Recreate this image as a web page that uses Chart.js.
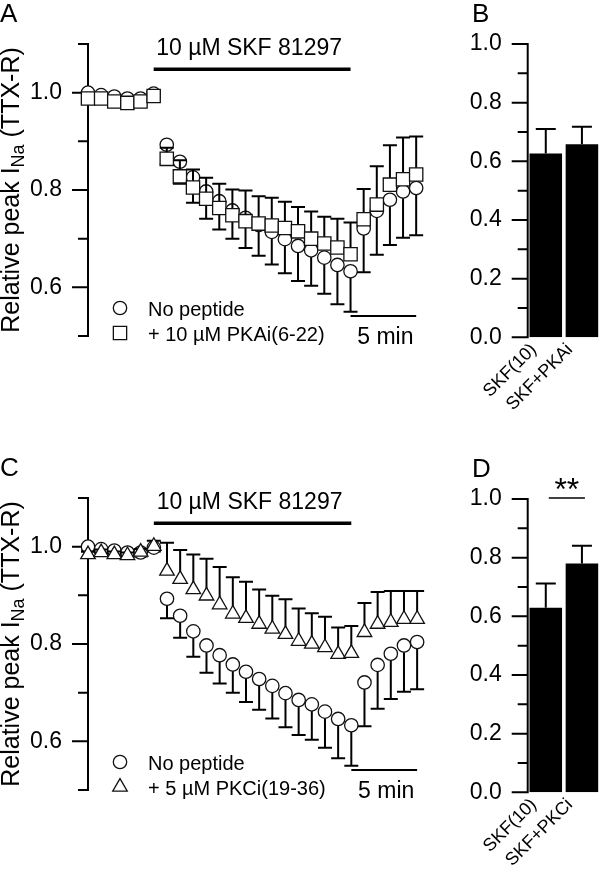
<!DOCTYPE html>
<html>
<head>
<meta charset="utf-8">
<script src="https://cdn.jsdelivr.net/npm/chart.js@4.4.1/dist/chart.umd.min.js"></script>
<style>
  html, body { margin: 0; padding: 0; background: #fff; overflow: hidden; }
  body { width: 600px; height: 875px; position: relative; }
  canvas { position: absolute; }
  #chartA { left: 0; top: 0; }
  #chartB { left: 440px; top: 0; }
  #chartC { left: 0; top: 454px; }
  #chartD { left: 440px; top: 455px; }
</style>
</head>
<body>
<canvas id="chartA" width="440" height="420"></canvas>
<canvas id="chartB" width="160" height="420"></canvas>
<canvas id="chartC" width="440" height="420"></canvas>
<canvas id="chartD" width="160" height="420"></canvas>
<script>
// time course, one point per minute
const minutes = [0, 1, 2, 3, 4, 5, 6, 7, 8, 9, 10, 11, 12, 13, 14, 15, 16, 17, 18, 19, 20, 21, 22, 23, 24, 25];
const noPeptide = [1.0, 0.995, 0.992, 0.988, 0.988, 0.998, 0.893, 0.858, 0.826, 0.797, 0.777, 0.758, 0.743, 0.728,
    0.714, 0.699, 0.685, 0.676, 0.661, 0.646, 0.633, 0.721, 0.757, 0.78, 0.797, 0.804];
const noPeptideSem = [0.01, 0.008, 0.008, 0.008, 0.008, 0.008, 0.04, 0.045, 0.052, 0.056, 0.058, 0.058, 0.062, 0.063,
    0.067, 0.07, 0.072, 0.073, 0.074, 0.081, 0.083, 0.09, 0.09, 0.093, 0.095, 0.097];
const pkaInhib = [0.988, 0.988, 0.982, 0.979, 0.982, 0.993, 0.864, 0.828, 0.805, 0.782, 0.763, 0.748, 0.736, 0.731,
    0.727, 0.722, 0.715, 0.7, 0.69, 0.682, 0.668, 0.74, 0.77, 0.811, 0.822, 0.832];
const pkaInhibSem = [0.008, 0.01, 0.01, 0.008, 0.008, 0.01, 0.023, 0.033, 0.037, 0.043, 0.05, 0.053, 0.063, 0.056,
    0.057, 0.054, 0.05, 0.056, 0.055, 0.059, 0.065, 0.062, 0.079, 0.081, 0.086, 0.078];
const pkcInhib = [0.984, 0.988, 0.984, 0.982, 0.989, 1.001, 0.95, 0.933, 0.912, 0.899, 0.881, 0.862, 0.853, 0.841,
    0.831, 0.82, 0.806, 0.8, 0.793, 0.779, 0.781, 0.824, 0.841, 0.845, 0.851, 0.851];
const pkcInhibSem = [0.006, 0.006, 0.006, 0.006, 0.006, 0.011, 0.058, 0.06, 0.072, 0.076, 0.077, 0.075, 0.075, 0.071,
    0.068, 0.072, 0.067, 0.063, 0.063, 0.055, 0.056, 0.06, 0.066, 0.064, 0.058, 0.058];
const skfWindow = [5, 20];
const scaleBarMin = [20, 25];
const timeTicks = [0.6, 0.8, 1.0];

// bar summaries
const barLabelsB = ['SKF(10)', 'SKF+PKAi'];
const barMeansB = [0.627, 0.658];
const barSemB = [0.083, 0.06];
const barLabelsD = ['SKF(10)', 'SKF+PKCi'];
const barMeansD = [0.629, 0.78];
const barSemD = [0.083, 0.061];
const barTicks = [0, 0.2, 0.4, 0.6, 0.8, 1.0];

const FONT = '"Liberation Sans", Arial, Helvetica, sans-serif';
Chart.defaults.font.family = FONT;
Chart.defaults.color = '#000';

function font(px) { return px + 'px ' + FONT; }

function tickLabeler(labelled) {
    return v => labelled.some(t => Math.abs(t - v) < 1e-6) ? v.toFixed(1) : '';
}

function pts(values) {
    return values.map((v, i) => ({ x: minutes[i], y: v }));
}

function drawYAxis(chart, labelled) {
    const { ctx, chartArea: a, scales: { y } } = chart;
    ctx.save();
    ctx.strokeStyle = '#000';
    ctx.lineWidth = 2;
    ctx.beginPath();
    ctx.moveTo(a.left, y.getPixelForValue(y.max) - 1);
    ctx.lineTo(a.left, y.getPixelForValue(y.min) + 1);
    y.ticks.forEach(t => {
        const py = y.getPixelForValue(t.value);
        const len = labelled.some(v => Math.abs(v - t.value) < 1e-6) ? 16 : 10;
        ctx.moveTo(a.left - len, py);
        ctx.lineTo(a.left, py);
    });
    ctx.stroke();
    ctx.restore();
}

function drawErrors(chart, index) {
    const ds = chart.data.datasets[index];
    if (!ds.sem) return;
    const meta = chart.getDatasetMeta(index);
    const { ctx, scales: { y } } = chart;
    ctx.save();
    ctx.strokeStyle = '#000';
    ctx.lineWidth = 2;
    ctx.beginPath();
    meta.data.forEach((el, i) => {
        const d = ds.data[i];
        const v = typeof d === 'object' ? d.y : d;
        const y0 = y.getPixelForValue(v);
        const y1 = y.getPixelForValue(v + ds.errDir * ds.sem[i]);
        ctx.moveTo(el.x, y0);
        ctx.lineTo(el.x, y1);
        ctx.moveTo(el.x - ds.capHalf, y1);
        ctx.lineTo(el.x + ds.capHalf, y1);
    });
    ctx.stroke();
    ctx.restore();
}

const errorBars = {
    id: 'errorBars',
    beforeDatasetDraw(chart, args) {
        if (chart.config.type !== 'bar') drawErrors(chart, args.index);
    },
    afterDatasetDraw(chart, args) {
        if (chart.config.type === 'bar') drawErrors(chart, args.index);
    }
};

function drawYTitle(ctx, cx, cy) {
    const main = 'Relative peak I', sub = 'Na', tail = ' (TTX-R)';
    ctx.font = font(25);
    const w1 = ctx.measureText(main).width, w3 = ctx.measureText(tail).width;
    ctx.font = font(18);
    const w2 = ctx.measureText(sub).width;
    ctx.save();
    ctx.translate(cx, cy);
    ctx.rotate(-Math.PI / 2);
    ctx.textAlign = 'left';
    ctx.textBaseline = 'alphabetic';
    let px = -(w1 + w2 + w3) / 2;
    ctx.font = font(25);
    ctx.fillText(main, px, 0);
    px += w1;
    ctx.font = font(18);
    ctx.fillText(sub, px, 5);
    px += w2;
    ctx.font = font(25);
    ctx.fillText(tail, px, 0);
    ctx.restore();
}

function drawMarker(ctx, ds, x, y) {
    ctx.save();
    ctx.fillStyle = ds.pointBackgroundColor;
    ctx.strokeStyle = ds.pointBorderColor;
    ctx.lineWidth = ds.pointBorderWidth;
    Chart.helpers.drawPoint(ctx, { pointStyle: ds.pointStyle, radius: ds.pointRadius, borderWidth: ds.pointBorderWidth, rotation: 0 }, x, y);
    ctx.restore();
}

const timeDeco = {
    id: 'timeDeco',
    beforeDatasetsDraw(chart, args, o) {
        drawYAxis(chart, timeTicks);
    },
    afterDraw(chart, args, o) {
        const { ctx, chartArea: a, scales: { x, y } } = chart;
        ctx.save();
        ctx.fillStyle = '#000';
        ctx.strokeStyle = '#000';
        ctx.textAlign = 'left';
        ctx.textBaseline = 'alphabetic';
        ctx.font = font(26);
        ctx.fillText(o.letter, 0, 22);
        drawYTitle(ctx, 19, (a.top + a.bottom) / 2);

        // drug application bar
        const x0 = x.getPixelForValue(skfWindow[0]), x1 = x.getPixelForValue(skfWindow[1]);
        const yd = y.getPixelForValue(1.048);
        ctx.lineWidth = 3.5;
        ctx.beginPath();
        ctx.moveTo(x0, yd);
        ctx.lineTo(x1, yd);
        ctx.stroke();
        ctx.font = font(23);
        ctx.textAlign = 'center';
        ctx.fillText('10 \u00b5M SKF 81297', (x0 + x1) / 2 - 3, yd - 14);

        // time scale bar
        const s0 = x.getPixelForValue(scaleBarMin[0]), s1 = x.getPixelForValue(scaleBarMin[1]);
        const ys = y.getPixelForValue(0.541);
        ctx.lineWidth = 2;
        ctx.beginPath();
        ctx.moveTo(s0, ys);
        ctx.lineTo(s1, ys);
        ctx.stroke();
        ctx.fillText('5 min', (s0 + s1) / 2 + 2, ys + 28);

        // legend
        ctx.font = font(20);
        ctx.textAlign = 'left';
        chart.data.datasets.forEach((ds, i) => {
            const cy = a.bottom - 28 + i * 25;
            drawMarker(ctx, ds, a.left + 32, cy);
            ctx.fillStyle = '#000';
            ctx.fillText(ds.label, a.left + 60, cy + 8);
        });
        ctx.restore();
    }
};

const barDeco = {
    id: 'barDeco',
    beforeDatasetsDraw(chart, args, o) {
        drawYAxis(chart, barTicks);
    },
    afterDraw(chart, args, o) {
        const { ctx, scales: { x, y } } = chart;
        ctx.save();
        ctx.fillStyle = '#000';
        ctx.strokeStyle = '#000';
        ctx.textAlign = 'left';
        ctx.textBaseline = 'alphabetic';
        ctx.font = font(26);
        ctx.fillText(o.letter, 32, 22);
        if (o.stars) {
            const x0 = x.getPixelForValue(0) + 3, x1 = x.getPixelForValue(1) + 3;
            const yl = y.getPixelForValue(1.0) - 1;
            ctx.lineWidth = 1.5;
            ctx.beginPath();
            ctx.moveTo(x0, yl);
            ctx.lineTo(x1, yl);
            ctx.stroke();
            ctx.font = font(32);
            ctx.textAlign = 'center';
            ctx.fillText(o.stars, (x0 + x1) / 2, yl + 2);
        }
        ctx.restore();
    }
};

function markerSet(label, values, sem, dir, style, radius, order) {
    return {
        label: label,
        data: pts(values),
        sem: sem,
        errDir: dir,
        capHalf: 7,
        pointStyle: style,
        pointRadius: radius,
        pointBackgroundColor: '#fff',
        pointBorderColor: '#111',
        pointBorderWidth: 1.3,
        showLine: false,
        clip: false,
        order: order
    };
}

function timeChart(id, letter, inhibLabel, inhibValues, inhibSem, inhibStyle, inhibRadius) {
    return new Chart(document.getElementById(id), {
        type: 'scatter',
        data: {
            datasets: [
                markerSet('No peptide', noPeptide, noPeptideSem, -1, 'circle', 6.7, 2),
                markerSet(inhibLabel, inhibValues, inhibSem, 1, inhibStyle, inhibRadius, 1)
            ]
        },
        options: {
            responsive: false,
            animation: false,
            events: [],
            layout: { padding: { top: 44, bottom: 84, left: 0, right: 9 } },
            plugins: { legend: { display: false }, tooltip: { enabled: false }, timeDeco: { letter: letter } },
            scales: {
                x: { type: 'linear', min: 0, max: 26, display: false },
                y: {
                    min: 0.5, max: 1.1,
                    grid: { display: false, drawTicks: false },
                    border: { display: false },
                    ticks: { stepSize: 0.1, autoSkip: false, padding: 26, font: { size: 23 }, callback: tickLabeler(timeTicks) },
                    afterFit(s) { s.width = 88; }
                }
            }
        },
        plugins: [errorBars, timeDeco]
    });
}

function barChart(id, letter, labels, means, sem, stars) {
    return new Chart(document.getElementById(id), {
        type: 'bar',
        data: {
            labels: labels,
            datasets: [{
                data: means,
                sem: sem,
                errDir: 1,
                capHalf: 10,
                backgroundColor: '#000',
                borderWidth: 0,
                barPercentage: 0.9,
                categoryPercentage: 1.0
            }]
        },
        options: {
            responsive: false,
            animation: false,
            events: [],
            layout: { padding: { top: 44, bottom: 0, left: 0, right: 0 } },
            plugins: { legend: { display: false }, tooltip: { enabled: false }, barDeco: { letter: letter, stars: stars } },
            scales: {
                x: {
                    grid: { display: false, drawTicks: false },
                    border: { display: false },
                    ticks: { font: { size: 18 }, minRotation: 45, maxRotation: 45, padding: 2, labelOffset: -12, autoSkip: false },
                    afterFit(s) { s.height = 82.7; }
                },
                y: {
                    min: 0, max: 1.0,
                    grid: { display: false, drawTicks: false },
                    border: { display: false },
                    ticks: { stepSize: 0.1, autoSkip: false, padding: 26, font: { size: 23 }, callback: tickLabeler(barTicks) },
                    afterFit(s) { s.width = 87.7; }
                }
            }
        },
        plugins: [errorBars, barDeco]
    });
}

timeChart('chartA', 'A', '+ 10 \u00b5M PKAi(6-22)', pkaInhib, pkaInhibSem, 'rect', 9.4);
barChart('chartB', 'B', barLabelsB, barMeansB, barSemB, null);
timeChart('chartC', 'C', '+ 5 \u00b5M PKCi(19-36)', pkcInhib, pkcInhibSem, 'triangle', 8.4);
barChart('chartD', 'D', barLabelsD, barMeansD, barSemD, '**');
</script>
</body>
</html>
